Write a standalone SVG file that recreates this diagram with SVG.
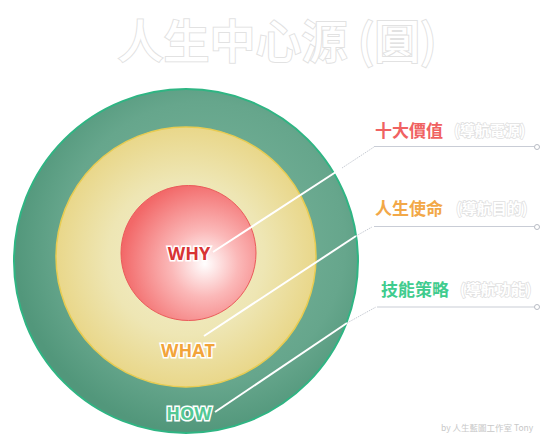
<svg xmlns="http://www.w3.org/2000/svg" width="558" height="447" viewBox="0 0 558 447">
<defs>
<radialGradient id="gOuter" cx="0.55" cy="0.45" r="0.55">
<stop offset="0" stop-color="#7db89f"/>
<stop offset="0.75" stop-color="#66a68c"/>
<stop offset="1" stop-color="#52977b"/>
</radialGradient>
<radialGradient id="gMid" cx="0.5" cy="0.5" r="0.5">
<stop offset="0" stop-color="#f3f0cf"/>
<stop offset="0.6" stop-color="#eee6b4"/>
<stop offset="1" stop-color="#e9d78a"/>
</radialGradient>
<radialGradient id="gIn" cx="0.62" cy="0.58" r="0.62">
<stop offset="0" stop-color="#ffffff"/>
<stop offset="0.4" stop-color="#fbb8b8"/>
<stop offset="1" stop-color="#f26868"/>
</radialGradient>
<style>
.title{font-family:"Noto Sans CJK TC","Noto Sans CJK SC",sans-serif;font-weight:500;font-size:46px;fill:#ffffff;stroke:#e2e2e2;stroke-width:2;paint-order:stroke;}
.lab{font-family:"Noto Sans CJK TC","Noto Sans CJK SC",sans-serif;font-weight:700;font-size:17px;stroke:#ffffff;stroke-width:2;paint-order:stroke;}
.sub{font-family:"Noto Sans CJK TC","Noto Sans CJK SC",sans-serif;font-weight:700;font-size:15px;fill:#ffffff;stroke:#e0e0e0;stroke-width:1.5;paint-order:stroke;}
.ring{font-family:"Open Sans","Liberation Sans",sans-serif;font-weight:700;font-size:18px;text-anchor:middle;stroke:#ffffff;stroke-width:3;paint-order:stroke;}
.lead{fill:none;stroke:#ffffff;stroke-width:2;}
.dot{fill:none;stroke:#c8ccd4;stroke-width:1;stroke-dasharray:1.5 1;}
.hline{stroke:#c9cdd6;stroke-width:1.2;}
.end{fill:#ffffff;stroke:#b8bcc4;stroke-width:1;}
.foot{font-family:"Noto Sans CJK TC","Liberation Sans",sans-serif;font-size:8.5px;fill:#c8c8c8;}
</style>
</defs>
<rect width="558" height="447" fill="#ffffff"/>
<text class="title" x="277" y="58" text-anchor="middle">人生中心源 (圓)</text>
<g id="how">
<circle cx="186" cy="261" r="172" fill="url(#gOuter)" stroke="#2fb583" stroke-width="2"/>
</g>
<g id="what">
<circle cx="186" cy="257" r="130" fill="url(#gMid)" stroke="#e8cc52" stroke-width="1.5"/>
</g>
<g id="why">
<circle cx="188.5" cy="253" r="67.5" fill="url(#gIn)" stroke="#ea5a5a" stroke-width="1"/>
</g>
<g id="connectors">
<polyline class="lead" points="213,252 342,168"/>
<polyline class="dot" points="342,168 374,147"/>
<line class="hline" x1="374" y1="146.5" x2="534" y2="146.5"/>
<circle class="end" cx="537" cy="147" r="2.5"/>
<polyline class="lead" points="204,336 356,236"/>
<polyline class="dot" points="356,236 372,227"/>
<line class="hline" x1="374" y1="226.5" x2="534" y2="226.5"/>
<circle class="end" cx="537" cy="227" r="2.5"/>
<polyline class="lead" points="215,412 347,323"/>
<polyline class="dot" points="347,323 376,307"/>
<line class="hline" x1="377" y1="307" x2="534" y2="307"/>
<circle class="end" cx="537" cy="307" r="2.5"/>
</g>
<g id="why-label"><text class="ring" x="189" y="260" fill="#d83434">WHY</text></g>
<g id="what-label"><text class="ring" x="188" y="357" fill="#f2a43a">WHAT</text></g>
<g id="how-label"><text class="ring" x="189" y="420" fill="#52c895">HOW</text></g>
<g id="label-values">
<text class="lab" x="375" y="137" fill="#f06262">十大價值</text>
<text class="sub" x="454" y="136">(導航電源)</text>
</g>
<g id="label-mission">
<text class="lab" x="375" y="215" fill="#f2a848">人生使命</text>
<text class="sub" x="456" y="214">(導航目的)</text>
</g>
<g id="label-skills">
<text class="lab" x="381" y="296" fill="#3fcc8e">技能策略</text>
<text class="sub" x="460" y="295">(導航功能)</text>
</g>
<text class="foot" x="441" y="431">by 人生藍圖工作室 Tony</text>
</svg>
